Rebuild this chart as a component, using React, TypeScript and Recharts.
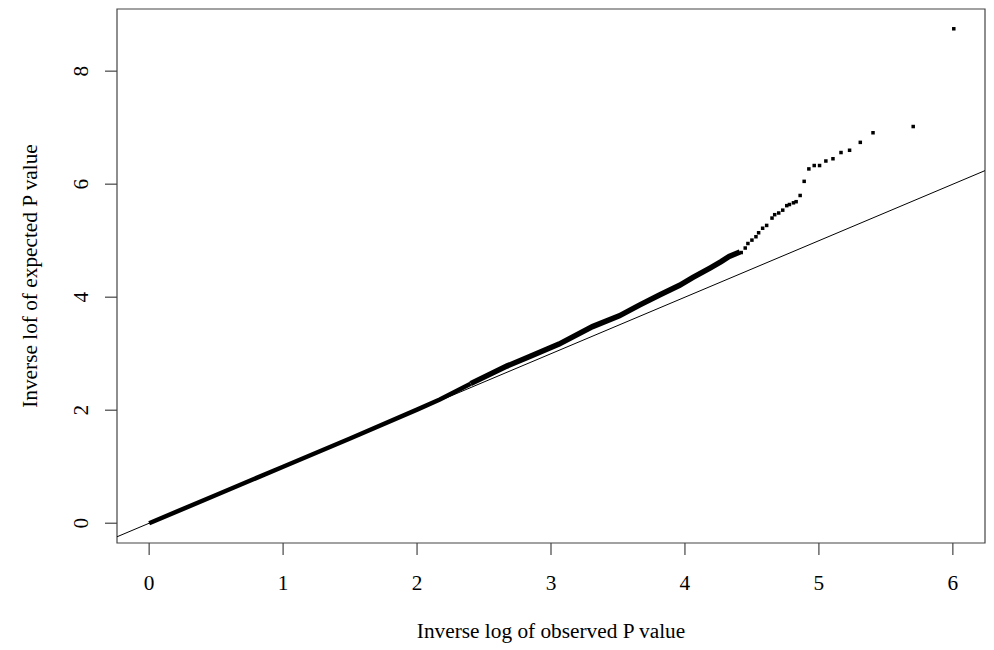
import { ScatterChart, Scatter, XAxis, YAxis, ReferenceLine, ReferenceArea, Label } from "recharts";

// dense part of the QQ curve (points overlap into a solid band)
const lowX = [0, 0.5, 1.0, 1.5, 2.0, 2.17, 2.4];
const lowY = [0, 0.5, 1.0, 1.5, 2.01, 2.19, 2.47];
const midX = [2.4, 2.67, 2.85, 3.06, 3.31, 3.51, 3.66, 3.81, 3.96, 4.06, 4.19, 4.27, 4.33, 4.41];
const midY = [2.47, 2.78, 2.96, 3.17, 3.48, 3.67, 3.86, 4.04, 4.21, 4.35, 4.52, 4.63, 4.72, 4.8];

// upper tail, individual points
const tailX = [4.42, 4.45, 4.47, 4.5, 4.53, 4.55, 4.58, 4.61, 4.65, 4.67, 4.7, 4.73, 4.76, 4.78, 4.81, 4.83, 4.86, 4.89, 4.925, 4.965, 5.005, 5.052, 5.105, 5.165, 5.229, 5.309, 5.404, 5.704, 6.007];
const tailY = [4.79, 4.87, 4.95, 5.01, 5.07, 5.14, 5.22, 5.27, 5.4, 5.46, 5.49, 5.54, 5.62, 5.64, 5.67, 5.69, 5.8, 6.05, 6.27, 6.33, 6.33, 6.41, 6.45, 6.56, 6.6, 6.74, 6.91, 7.02, 8.75];

const xTicks = [0, 1, 2, 3, 4, 5, 6];
const yTicks = [0, 2, 4, 6, 8];

const xDomain: [number, number] = [-0.24, 6.24];
const yDomain: [number, number] = [-0.35, 9.1];

const low = lowX.map((x, i) => ({ x, y: lowY[i] }));
const mid = midX.map((x, i) => ({ x, y: midY[i] }));
const tail = tailX.map((x, i) => ({ x, y: tailY[i] }));

const font = "'Liberation Serif', 'Times New Roman', serif";
const fontSize = 21.3;
const gray = "#444";

const Square = (p: any) => <rect x={p.cx - 1.75} y={p.cy - 1.75} width={3.5} height={3.5} fill="#000" />;

const XTick = (p: any) => (
  <text x={p.x} y={582} textAnchor="middle" fontFamily={font} fontSize={fontSize} fill="#000">
    {p.payload.value}
  </text>
);

const YTick = (p: any) => (
  <text x={80} y={p.y} transform={`rotate(-90, 80, ${p.y})`} textAnchor="middle" fontFamily={font} fontSize={fontSize} fill="#000">
    {p.payload.value}
  </text>
);

export default function App() {
  return (
    <ScatterChart width={986} height={642} margin={{ top: 1, right: 9, bottom: 0, left: 0 }}>
      <XAxis
        type="number"
        dataKey="x"
        domain={xDomain}
        ticks={xTicks}
        allowDataOverflow
        height={107}
        tickSize={12}
        axisLine={false}
        tickLine={{ stroke: gray, strokeWidth: 1.2 }}
        tick={<XTick />}
      >
        <Label
          content={() => (
            <text x={543} y={630} textAnchor="middle" fontFamily={font} fontSize={fontSize} fill="#000">
              Inverse log of observed P value
            </text>
          )}
        />
      </XAxis>
      <YAxis
        type="number"
        dataKey="y"
        domain={yDomain}
        ticks={yTicks}
        allowDataOverflow
        width={109}
        tickSize={12}
        axisLine={false}
        tickLine={{ stroke: gray, strokeWidth: 1.2 }}
        tick={<YTick />}
      >
        <Label
          content={() => (
            <text x={29} y={268} transform="rotate(-90, 29, 268)" textAnchor="middle" fontFamily={font} fontSize={fontSize} fill="#000">
              Inverse lof of expected P value
            </text>
          )}
        />
      </YAxis>
      <ReferenceArea x1={xDomain[0]} x2={xDomain[1]} y1={yDomain[0]} y2={yDomain[1]} fill="none" stroke={gray} strokeWidth={1.2} fillOpacity={0} />
      <Scatter data={low} line={{ stroke: "#000", strokeWidth: 4.5 }} shape={() => <g />} isAnimationActive={false} />
      <Scatter data={mid} line={{ stroke: "#000", strokeWidth: 5.5 }} shape={() => <g />} isAnimationActive={false} />
      <Scatter data={tail} shape={Square} isAnimationActive={false} />
      <ReferenceLine segment={[{ x: xDomain[0], y: xDomain[0] }, { x: xDomain[1], y: xDomain[1] }]} stroke="#000" strokeWidth={1} />
    </ScatterChart>
  );
}
